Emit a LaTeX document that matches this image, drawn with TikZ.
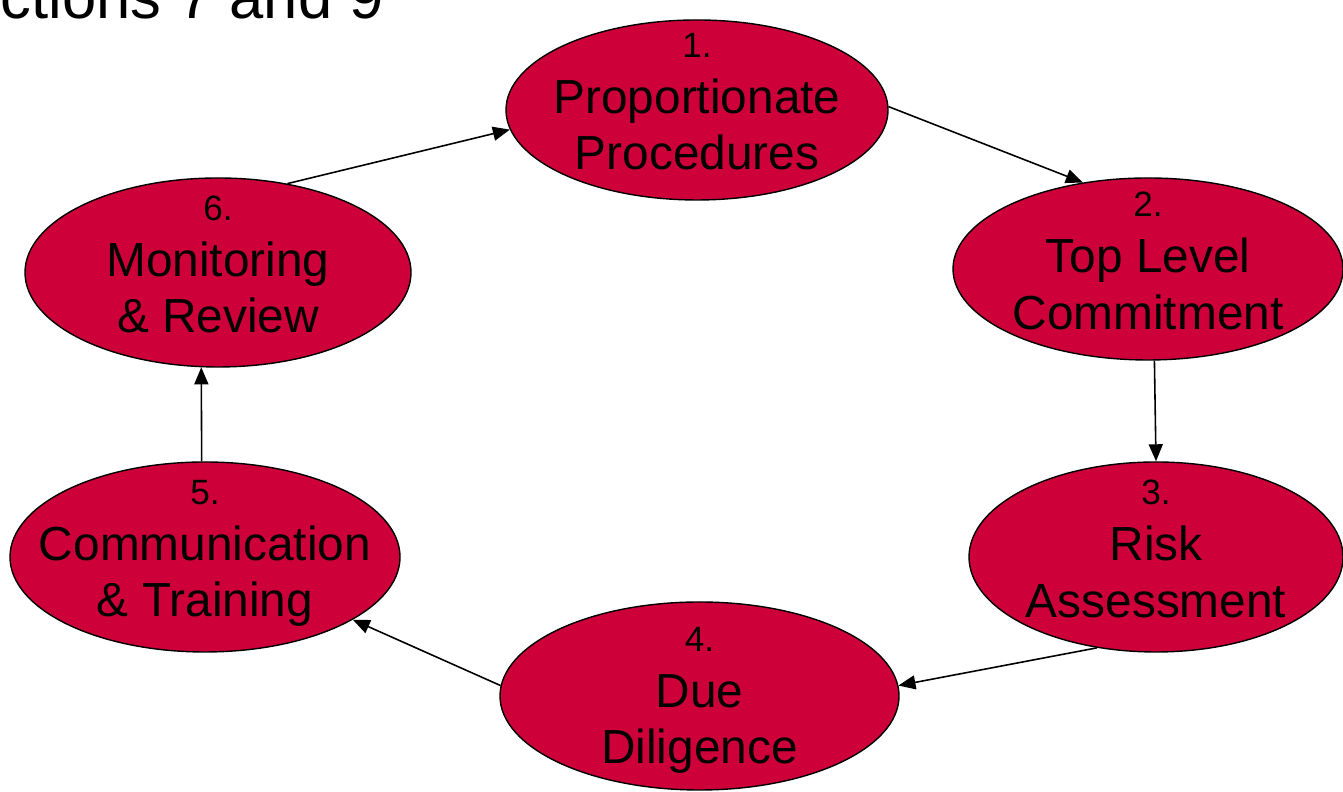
\documentclass[tikz,border=0pt]{standalone}
\usepackage{fontspec}
\setmainfont{Liberation Sans}
\usetikzlibrary{shapes.geometric,arrows.meta}
\definecolor{stagered}{RGB}{206,0,58}
\begin{document}
\begin{tikzpicture}[
  stage/.style={ellipse, draw, fill=stagered, line width=0.4pt, inner sep=0pt},
  stagetext/.style={font=\fontsize{13.6}{16}\selectfont, align=center, inner sep=0pt},
  flow/.style={-{Triangle[length=1.7mm,width=1.4mm]}, line width=0.45pt}]
\useasboundingbox (0,0) rectangle (13.43,7.92);
% title runs off the top edge
\node[anchor=base west, inner sep=0pt, font=\fontsize{17.5}{20}\selectfont] (title) at (0,7.737) {ctions 7 and 9};
\node[stage, minimum width=3.82cm, minimum height=1.80cm] (p1) at (6.97,6.82) {};
\node[stage, minimum width=3.90cm, minimum height=1.82cm] (p2) at (11.48,5.23) {};
\node[stage, minimum width=3.74cm, minimum height=1.90cm] (p3) at (11.56,2.35) {};
\node[stage, minimum width=3.99cm, minimum height=1.88cm] (p4) at (6.995,0.96) {};
\node[stage, minimum width=3.90cm, minimum height=1.90cm] (p5) at (2.05,2.35) {};
\node[stage, minimum width=3.86cm, minimum height=1.89cm] (p6) at (2.18,5.195) {};
\node[stagetext] (t1) at (p1) {{\fontsize{10}{16}\selectfont 1.}\\Proportionate\\Procedures\strut};
\node[stagetext] (t2) at (p2) {{\fontsize{10}{16}\selectfont 2.}\\Top Level\\Commitment\strut};
\node[stagetext] (t3) at (p3) {{\fontsize{10}{16}\selectfont 3.}\\Risk\\Assessment\strut};
\node[stagetext, yshift=-0.08cm] (t4) at (p4) {{\fontsize{10}{16}\selectfont 4.}\\Due\\Diligence\strut};
\node[stagetext] (t5) at (p5) {{\fontsize{10}{16}\selectfont 5.}\\Communication\\\& Training\strut};
\node[stagetext] (t6) at (p6) {{\fontsize{10}{16}\selectfont 6.}\\Monitoring\\\& Review\strut};
% the cycle
\draw[flow] (p1.1) -- (p2.127);
\draw[flow] (p2.-86) -- (p3.90);
\draw[flow] (p3.237) -- (p4.3);
\draw[flow] (p4.177) -- (p5.-23);
\draw[flow] (p5.92) -- (p6.-100);
\draw[flow] (p6.52) -- (p1.186);
\end{tikzpicture}
\end{document}
